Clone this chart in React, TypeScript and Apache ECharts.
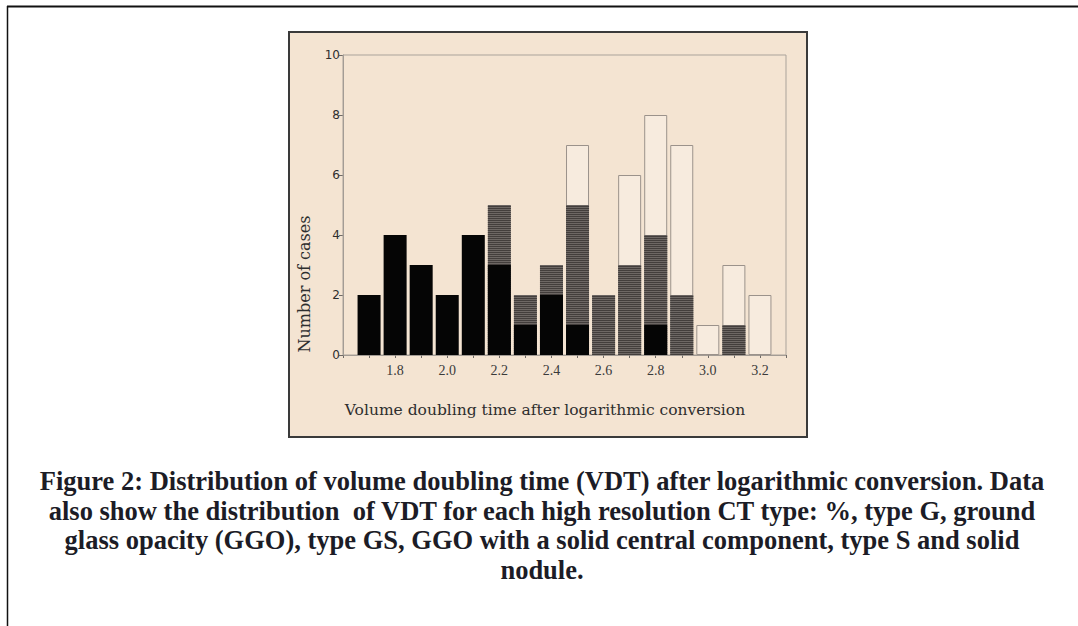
import React, { useEffect, useRef } from "react";
import * as echarts from "echarts";

// Bin centres (log-converted VDT)
const bins = [1.7, 1.8, 1.9, 2.0, 2.1, 2.2, 2.3, 2.4, 2.5, 2.6, 2.7, 2.8, 2.9, 3.0, 3.1, 3.2];
// Type S (solid nodule) – black
const typeS = [2, 4, 3, 2, 4, 3, 1, 2, 1, 0, 0, 1, 0, 0, 0, 0];
// Type GS (GGO with solid central component) – hatched grey
const typeGS = [0, 0, 0, 0, 0, 2, 1, 1, 4, 2, 3, 3, 2, 0, 1, 0];
// Type G (ground glass opacity) – open
const typeG = [0, 0, 0, 0, 0, 0, 0, 0, 2, 0, 3, 4, 5, 1, 2, 2];

const xTickLabels = ["1.8", "2.0", "2.2", "2.4", "2.6", "2.8", "3.0", "3.2"];
const yTickLabels = ["0", "2", "4", "6", "8", "10"];

const xTitle = "Volume doubling time after logarithmic conversion";
const yTitle = "Number of cases";
const captionLines = [
  "Figure 2: Distribution of volume doubling time (VDT) after logarithmic conversion. Data",
  "also show the distribution  of VDT for each high resolution CT type: %, type G, ground",
  "glass opacity (GGO), type GS, GGO with a solid central component, type S and solid",
  "nodule.",
];

const BG = "#f4e4d2";

export default function App() {
  const ref = useRef<HTMLDivElement>(null);

  useEffect(() => {
    if (!ref.current) return;
    const chart = echarts.init(ref.current, null, { renderer: "svg" });

    // stacked tops, drawn as overlapping bars (open G behind, GS, then S in front)
    const topS = typeS.map((v) => v);
    const topGS = typeS.map((v, i) => v + typeGS[i]);
    const topG = typeS.map((v, i) => v + typeGS[i] + typeG[i]);

    const toData = (tops: number[], own: number[]) =>
      bins.map((b, i) => (own[i] > 0 ? [b, tops[i]] : [b, "-"]));

    const option: any = {
      animation: false,
      backgroundColor: "#ffffff",
      grid: {
        left: 343,
        top: 55,
        right: 292,
        bottom: 271,
        show: true,
        borderColor: "#aaa39b",
        borderWidth: 1,
        backgroundColor: "transparent",
        z: 1,
      },
      xAxis: {
        type: "value",
        min: 1.6,
        max: 3.3,
        interval: 0.1,
        axisLine: { show: true, lineStyle: { color: "#9c958e", width: 1 } },
        axisTick: { show: true, length: 3, lineStyle: { color: "#6f6a66" } },
        splitLine: { show: false },
        axisLabel: {
          margin: 8,
          fontFamily: "Liberation Serif",
          fontSize: 14,
          color: "#3a3a3a",
          formatter: (v: number) => {
            const s = (Math.round(v * 10) / 10).toFixed(1);
            return xTickLabels.includes(s) ? s : "";
          },
        },
      },
      yAxis: {
        type: "value",
        min: 0,
        max: 10,
        interval: 2,
        axisLine: { show: true, lineStyle: { color: "#9c958e", width: 1 } },
        axisTick: { show: true, length: 4, lineStyle: { color: "#6f6a66" } },
        splitLine: { show: false },
        axisLabel: {
          margin: 3,
          fontFamily: "DejaVu Sans",
          fontSize: 12,
          color: "#2e2e2e",
          formatter: (v: number) => {
            const s = String(Math.round(v));
            return yTickLabels.includes(s) ? s : "";
          },
        },
      },
      series: [
        {
          name: "Type G",
          type: "bar",
          barWidth: 23,
          barGap: "-100%",
          data: toData(topG, typeG),
          itemStyle: { color: "#f7ebde", borderColor: "#9b928b", borderWidth: 1 },
          z: 3,
        },
        {
          name: "Type GS",
          type: "bar",
          barWidth: 23,
          barGap: "-100%",
          data: toData(topGS, typeGS),
          itemStyle: {
            color: "#6d6764",
            decal: {
              symbol: "rect",
              symbolSize: 1,
              dashArrayX: [1, 0],
              dashArrayY: [1, 1],
              color: "#433e3c",
            },
          },
          z: 4,
        },
        {
          name: "Type S",
          type: "bar",
          barWidth: 23,
          barGap: "-100%",
          data: toData(topS, typeS),
          itemStyle: { color: "#050505" },
          z: 5,
        },
      ],
      graphic: [
        // page border
        {
          type: "line",
          z: -20,
          shape: { x1: 7, y1: 6.5, x2: 1078, y2: 6.5 },
          style: { stroke: "#111111", lineWidth: 2 },
        },
        {
          type: "line",
          z: -20,
          shape: { x1: 7.5, y1: 6, x2: 7.5, y2: 626 },
          style: { stroke: "#111111", lineWidth: 1.5 },
        },
        // chart panel
        {
          type: "rect",
          z: -10,
          shape: { x: 289, y: 32, width: 518, height: 405 },
          style: { fill: BG, stroke: "#3a3a3a", lineWidth: 2 },
        },
        {
          type: "text",
          z: 5,
          x: 545,
          y: 410,
          style: {
            text: xTitle,
            fontFamily: "DejaVu Serif",
            fontSize: 15.5,
            fill: "#2e2e2e",
            align: "center",
            verticalAlign: "middle",
          },
        },
        {
          type: "text",
          z: 5,
          x: 304,
          y: 284,
          rotation: Math.PI / 2,
          style: {
            text: yTitle,
            fontFamily: "DejaVu Serif",
            fontSize: 16,
            fill: "#2e2e2e",
            align: "center",
            verticalAlign: "middle",
          },
        },
        ...captionLines.map((line, i) => ({
          type: "text",
          z: 5,
          x: 542,
          y: 481 + i * 29.5,
          style: {
            text: line,
            fontFamily: "Liberation Serif",
            fontWeight: "bold",
            fontSize: 26.5,
            fill: "#1c1c26",
            align: "center",
            verticalAlign: "middle",
          },
        })),
      ],
    };

    chart.setOption(option);
    return () => chart.dispose();
  }, []);

  return (
    <div
      ref={ref}
      style={{ position: "absolute", left: 0, top: 0, width: 1078, height: 626 }}
    />
  );
}
